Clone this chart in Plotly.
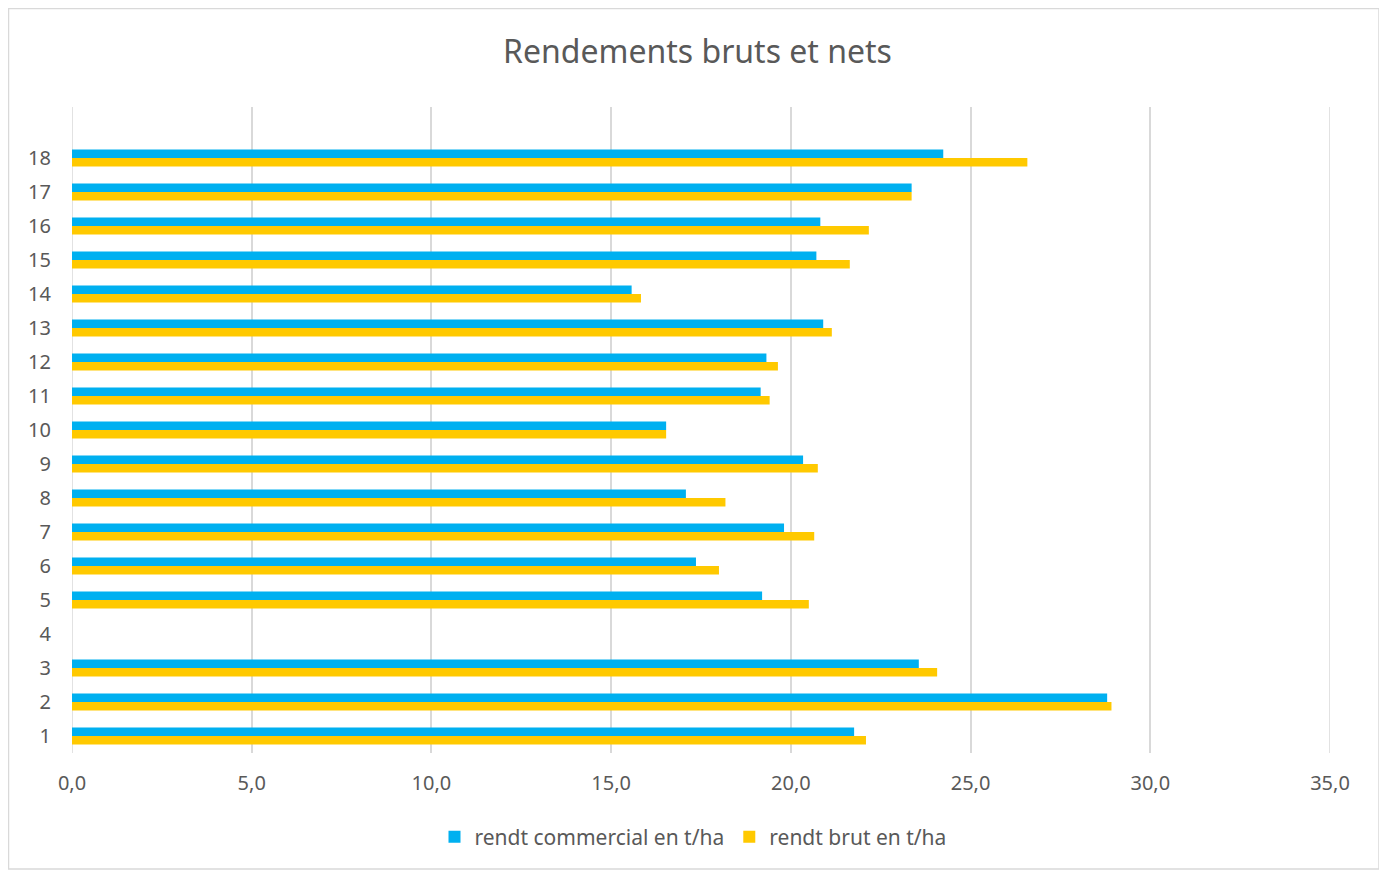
import plotly.graph_objects as go

categories = list(range(1, 19))
rendt_commercial = [21.76, 28.80, 23.56, None, 19.20, 17.36, 19.81, 17.08, 20.34, 16.53,
                    19.16, 19.32, 20.90, 15.57, 20.71, 20.82, 23.36, 24.24]
rendt_brut = [22.09, 28.92, 24.07, None, 20.50, 18.00, 20.65, 18.18, 20.75, 16.53,
              19.41, 19.64, 21.14, 15.83, 21.64, 22.17, 23.36, 26.58]
x_ticks = [0, 5, 10, 15, 20, 25, 30, 35]

OFF = 8  # page body margin
W, H = 1387 - OFF, 872 - OFF
L, R, T, B = 72 - OFF, 1330 - OFF, 107 - OFF, 753 - OFF

fig = go.Figure()

# edge gridlines (plotly hides gridlines lying on the plot-area border)
for xv in (x_ticks[0], x_ticks[-1]):
    fig.add_shape(type="line", xref="x", yref="paper", x0=xv, x1=xv, y0=0, y1=1,
                  line=dict(color="#D9D9D9", width=1.5), layer="below")

fig.add_trace(go.Bar(y=categories, x=rendt_brut, orientation="h",
                     name="rendt brut en t/ha", marker_color="#FFC900",
                     marker_line_width=0))
fig.add_trace(go.Bar(y=categories, x=rendt_commercial, orientation="h",
                     name="rendt commercial en t/ha", marker_color="#00B0F0",
                     marker_line_width=0))

def px(xp):
    return (xp - OFF - L) / (R - L)

def py(yp):
    return (B - (yp - OFF)) / (B - T)

fig.add_shape(type="rect", xref="paper", yref="paper",
              x0=px(8.5), x1=px(1379), y0=py(869), y1=py(8.5),
              line=dict(color="#D9D9D9", width=1.5), fillcolor="rgba(0,0,0,0)", layer="below")

fig.update_layout(
    width=W, height=H,
    margin=dict(l=L, r=W - R, t=T, b=H - B, autoexpand=False),
    paper_bgcolor="white", plot_bgcolor="white",
    barmode="group", bargap=0.5, bargroupgap=0,
    separators=", ",
    font=dict(family="Noto Sans", color="#595959", size=20),
    title=dict(text="Rendements bruts et nets", x=0.5, xanchor="center",
               y=1 - (52 - OFF) / H, yanchor="middle", yref="container",
               font=dict(size=32, color="#595959")),
    xaxis=dict(range=[0, 35], tickvals=x_ticks, tickformat=".1f",
               showgrid=True, gridcolor="#D9D9D9", gridwidth=1.5,
               zeroline=False, showline=False, ticks="", ticklabelstandoff=16,
               tickfont=dict(size=20, color="#595959"), fixedrange=True),
    yaxis=dict(range=[0.5, 19.5], tickvals=categories, ticktext=[str(c) for c in categories],
               showgrid=False, zeroline=False, showline=False, ticks="",
               ticklabelstandoff=20, tickfont=dict(size=20, color="#595959")),
    legend=dict(orientation="h", x=0.5 - 8 / (R - L), xanchor="center", y=py(837), yanchor="middle",
                traceorder="reversed", font=dict(size=21, color="#595959"),
                itemwidth=30),
    showlegend=True,
)

fig.write_html("out.html")
